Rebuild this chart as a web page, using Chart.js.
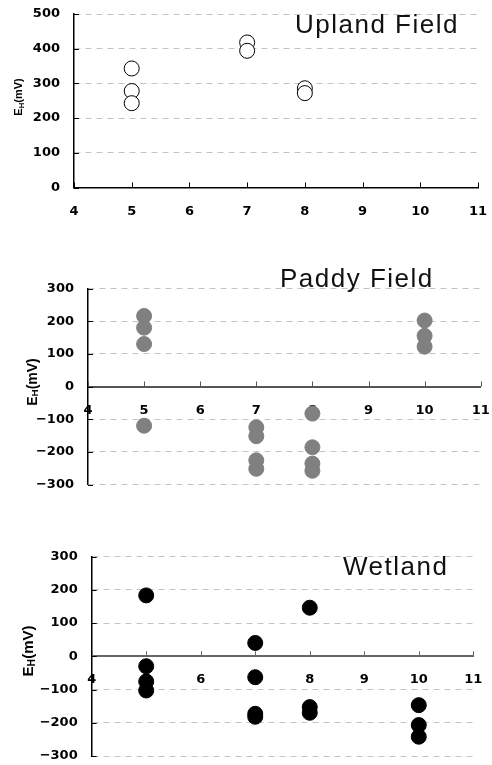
<!DOCTYPE html>
<html>
<head>
<meta charset="utf-8">
<script src="https://cdn.jsdelivr.net/npm/chart.js@4/dist/chart.umd.min.js"></script>
<style>
  html, body { margin:0; padding:0; background:#fff; }
  body { width:492px; height:765px; position:relative; overflow:hidden; }
  .panel { position:absolute; left:0; width:492px; }
  .ttl { position:absolute; font-family:"Liberation Sans", Arial, sans-serif; font-size:26px; line-height:26px; letter-spacing:1.5px; color:#111; white-space:nowrap; }
  .ylab { position:absolute; font-family:"Liberation Sans", Arial, sans-serif; font-weight:bold; color:#000; white-space:nowrap; transform:translate(-50%,-50%) rotate(-90deg); }
  .ylab span { font-size:70%; vertical-align:-0.18em; }
</style>
</head>
<body>
<div class="panel" style="top:0;height:230px"><canvas id="c1"></canvas></div>
<div class="panel" style="top:270px;height:230px"><canvas id="c2"></canvas></div>
<div class="panel" style="top:535px;height:230px"><canvas id="c3"></canvas></div>

<div class="ttl" style="left:295px;top:11px">Upland Field</div>
<div class="ttl" style="left:280px;top:265px">Paddy Field</div>
<div class="ttl" style="left:343px;top:553px">Wetland</div>

<div class="ylab" style="left:19px;top:97px;font-size:11px">E<span>H</span>(mV)</div>
<div class="ylab" style="left:32px;top:382px;font-size:14px">E<span>H</span>(mV)</div>
<div class="ylab" style="left:28px;top:651px;font-size:15px">E<span>H</span>(mV)</div>

<script>
// ---- data ----
const xTicks = [4, 5, 6, 7, 8, 9, 10, 11];

const uplandX = [5, 5, 5, 7, 7, 8, 8];
const uplandY = [343, 278, 243, 418, 394, 286, 272];
const uplandTicks = [0, 100, 200, 300, 400, 500];

const paddyX = [5, 5, 5, 5, 7, 7, 7, 7, 8, 8, 8, 8, 10, 10, 10];
const paddyY = [216, 180, 130, -120, -125, -152, -226, -252, -83, -186, -236, -258, 202, 155, 122];
const paddyTicks = [-300, -200, -100, 0, 100, 200, 300];

const wetX = [5, 5, 5, 5, 7, 7, 7, 7, 8, 8, 8, 10, 10, 10];
const wetY = [183, -30, -76, -103, 40, -63, -173, -182, 146, -153, -170, -147, -207, -242];
const wetTicks = [-300, -200, -100, 0, 100, 200, 300];

// ---- helpers ----
const pts = (xs, ys) => xs.map((x, i) => ({ x: x, y: ys[i] }));
const fmt = v => (v < 0 ? '\u2212' + Math.abs(v) : String(v));
const tickFont = { family: "'DejaVu Sans', sans-serif", size: 13, weight: 'bold' };

const innerTicks = {
  id: 'innerTicks',
  afterDatasetsDraw(chart, args, opts) {
    const ctx = chart.ctx, xs = chart.scales.x, ys = chart.scales.y;
    const ca = chart.chartArea;
    const axisY = opts.mid ? ys.getPixelForValue(0) : ca.bottom;
    ctx.save();
    ctx.lineWidth = 1;
    ctx.setLineDash([]);
    ctx.strokeStyle = opts.xColor;
    xs.ticks.forEach(t => {
      const px = Math.round(xs.getPixelForValue(t.value)) + 0.5;
      ctx.beginPath(); ctx.moveTo(px, axisY); ctx.lineTo(px, axisY - 5); ctx.stroke();
    });
    ctx.strokeStyle = '#000';
    ys.ticks.forEach(t => {
      const py = Math.round(ys.getPixelForValue(t.value)) + 0.5;
      ctx.beginPath(); ctx.moveTo(ca.left, py); ctx.lineTo(ca.left + 5, py); ctx.stroke();
    });
    ctx.restore();
  }
};

function makeChart(id, data, style, yTicks, cfg) {
  return new Chart(document.getElementById(id), {
    type: 'scatter',
    data: { datasets: [{
      data: data,
      pointRadius: 7.5,
      pointHoverRadius: 7.5,
      pointBackgroundColor: style.fill,
      pointBorderColor: style.border,
      pointBorderWidth: 1,
      clip: false
    }]},
    options: {
      responsive: true,
      maintainAspectRatio: false,
      animation: false,
      events: [],
      layout: { padding: cfg.padding },
      plugins: { legend: { display: false }, tooltip: { enabled: false },
                 innerTicks: { mid: cfg.mid, xColor: cfg.xColor } },
      scales: {
        x: {
          type: 'linear',
          min: xTicks[0], max: xTicks[xTicks.length - 1],
          position: cfg.mid ? { y: 0 } : 'bottom',
          afterBuildTicks: s => { s.ticks = xTicks.map(v => ({ value: v })); },
          afterFit: s => {
            if (!cfg.mid) s.height = cfg.xHeight;
            s.paddingLeft = 0; s.paddingRight = 0; s.paddingTop = 0; s.paddingBottom = 0;
          },
          grid: { display: false, drawTicks: false },
          border: { display: true, color: cfg.xColor, width: cfg.mid ? 2 : 1.5 },
          ticks: { padding: 16, color: '#000', font: tickFont, maxRotation: 0, autoSkip: false }
        },
        y: {
          type: 'linear',
          min: yTicks[0], max: yTicks[yTicks.length - 1],
          afterBuildTicks: s => { s.ticks = yTicks.map(v => ({ value: v })); },
          afterFit: s => {
            s.width = cfg.yWidth;
            s.paddingLeft = 0; s.paddingRight = 0; s.paddingTop = 0; s.paddingBottom = 0;
          },
          grid: { color: '#c4c4c4', lineWidth: 1, drawTicks: false },
          border: { display: true, color: '#000', width: 1.5, dash: [6, 5] },
          ticks: { padding: 14, color: '#000', font: tickFont, callback: v => fmt(v), autoSkip: false }
        }
      }
    },
    plugins: [innerTicks]
  });
}

makeChart('c1', pts(uplandX, uplandY), { fill: '#ffffff', border: '#000000' }, uplandTicks,
  { padding: { left: 0, right: 14, top: 14, bottom: 0 }, yWidth: 74, xHeight: 42.5, mid: false, xColor: '#000' });
makeChart('c2', pts(paddyX, paddyY), { fill: '#808080', border: '#808080' }, paddyTicks,
  { padding: { left: 0, right: 11.3, top: 18.5, bottom: 15.5 }, yWidth: 88, mid: true, xColor: '#555' });
makeChart('c3', pts(wetX, wetY), { fill: '#000000', border: '#000000' }, wetTicks,
  { padding: { left: 0, right: 18.7, top: 21.5, bottom: 9 }, yWidth: 91.7, mid: true, xColor: '#666' });
</script>
</body>
</html>
